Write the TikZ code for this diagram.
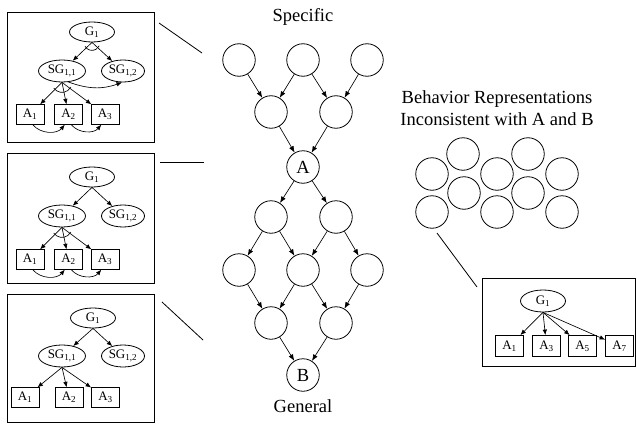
\documentclass[tikz,border=0pt]{standalone}
\usepackage{fontspec}
\setmainfont{Liberation Serif}
\usetikzlibrary{shapes.geometric,arrows.meta}
\begin{document}
\begin{tikzpicture}[x=1pt,y=1pt,
  every node/.style={font=\fontsize{13}{15}\selectfont},
  big/.style={font=\fontsize{18.5}{21.7}\selectfont},
  lat/.style={circle,draw,line width=0.8pt,minimum size=32.5pt,inner sep=0pt,big},
  gl/.style={ellipse,draw,line width=0.8pt,minimum width=45pt,minimum height=20pt,inner sep=0pt},
  sg/.style={gl,minimum width=47pt,minimum height=22pt},
  ab/.style={rectangle,draw,line width=0.8pt,minimum width=28pt,minimum height=19.5pt,inner sep=0pt},
  frame/.style={draw,line width=1pt},
  arr/.style={line width=0.65pt,-{Latex[length=5.5pt,width=4.5pt]}},
  larr/.style={line width=0.65pt,-{Latex[length=6.5pt,width=5pt]}},
  andarc/.style={line width=0.65pt},
  lead/.style={line width=0.8pt},
]
\useasboundingbox (0,0) rectangle (637,-428);

% ---------- Box 1 ----------
\draw[frame] (7,-13) rectangle (154,-142);
\node[gl] (ag) at (92,-32) {G\textsubscript{1}};
\node[sg] (as1) at (62,-71) {SG\textsubscript{1,1}};
\node[sg,minimum width=43pt] (as2) at (123,-71) {SG\textsubscript{1,2}};
\node[ab] (aa1) at (30,-114.5) {A\textsubscript{1}};
\node[ab] (aa2) at (68.5,-114.5) {A\textsubscript{2}};
\node[ab] (aa3) at (105,-114.5) {A\textsubscript{3}};
\draw[arr] (ag.south) -- (as1);
\draw[arr] (ag.south) -- (as2);
\draw[andarc] ([shift={(-150:8)}]ag.south) arc[start angle=-150,end angle=-25,radius=8];
\draw[arr] (as1.south) -- (aa1);
\draw[arr] (as1.south) -- (aa2);
\draw[arr] (as1.south) -- (aa3);
\draw[andarc] ([shift={(-145:10)}]as1.south) arc[start angle=-145,end angle=-28,radius=10];
\draw[arr] (as1.-60) to[out=-20,in=-160] (as2.-95);
\draw[arr] (aa1.-75) to[out=-50,in=-130] (aa2.-110);
\draw[arr] (aa2.-75) to[out=-50,in=-130] (aa3.-110);

% ---------- Box 2 ----------
\draw[frame] (7,-153) rectangle (154,-283);
\node[gl] (bg) at (92,-177) {G\textsubscript{1}};
\node[sg] (bs1) at (62,-216) {SG\textsubscript{1,1}};
\node[sg,minimum width=43pt] (bs2) at (123,-216) {SG\textsubscript{1,2}};
\node[ab] (ba1) at (30,-259.5) {A\textsubscript{1}};
\node[ab] (ba2) at (68.5,-259.5) {A\textsubscript{2}};
\node[ab] (ba3) at (105,-259.5) {A\textsubscript{3}};
\draw[arr] (bg.south) -- (bs1);
\draw[arr] (bg.south) -- (bs2);
\draw[arr] (bs1.south) -- (ba1);
\draw[arr] (bs1.south) -- (ba2);
\draw[arr] (bs1.south) -- (ba3);
\draw[andarc] ([shift={(-145:10)}]bs1.south) arc[start angle=-145,end angle=-28,radius=10];
\draw[arr] (ba1.-75) to[out=-50,in=-130] (ba2.-110);
\draw[arr] (ba2.-75) to[out=-50,in=-130] (ba3.-110);

% ---------- Box 3 ----------
\draw[frame] (7,-294) rectangle (154,-422);
\node[gl] (cg) at (93,-318) {G\textsubscript{1}};
\node[sg] (cs1) at (62,-356) {SG\textsubscript{1,1}};
\node[sg,minimum width=43pt] (cs2) at (123,-356) {SG\textsubscript{1,2}};
\node[ab] (ca1) at (25,-397.5) {A\textsubscript{1}};
\node[ab] (ca2) at (69,-397.5) {A\textsubscript{2}};
\node[ab] (ca3) at (105.5,-397.5) {A\textsubscript{3}};
\draw[arr] (cg.south) -- (cs1);
\draw[arr] (cg.south) -- (cs2);
\draw[arr] (cs1.south) -- (ca1);
\draw[arr] (cs1.south) -- (ca2);
\draw[arr] (cs1.south) -- (ca3);

% ---------- leader lines ----------
\coordinate (l1a) at (159,-23); \coordinate (l1b) at (202,-53);
\coordinate (l2a) at (160,-162); \coordinate (l2b) at (204,-162);
\coordinate (l3a) at (162,-302); \coordinate (l3b) at (203,-340);
\coordinate (l4a) at (437,-233); \coordinate (l4b) at (477,-287);
\draw[lead] (l1a) -- (l1b);
\draw[lead] (l2a) -- (l2b);
\draw[lead] (l3a) -- (l3b);
\draw[lead] (l4a) -- (l4b);

% ---------- lattice ----------
\node[big] (spec) at (303,-17) {Specific};
\node[big] (gen) at (303,-406) {General};
\node[lat] (t1) at (239,-60) {};
\node[lat] (t2) at (303,-60) {};
\node[lat] (t3) at (367,-60) {};
\node[lat] (m1) at (271,-112) {};
\node[lat] (m2) at (336,-112) {};
\node[lat] (A) at (303,-167) {A};
\node[lat] (n1) at (271,-217) {};
\node[lat] (n2) at (336,-217) {};
\node[lat] (o1) at (239,-270) {};
\node[lat] (o2) at (303,-270) {};
\node[lat] (o3) at (367,-270) {};
\node[lat] (p1) at (271,-323) {};
\node[lat] (p2) at (336,-323) {};
\node[lat] (B) at (303,-375) {B};
\foreach \u/\v in {t1/m1,t2/m1,t2/m2,t3/m2,m1/A,m2/A,A/n1,A/n2,n1/o1,n1/o2,n2/o2,n2/o3,o1/p1,o2/p1,o2/p2,o3/p2,p1/B,p2/B}
  \draw[larr] (\u) -- (\v);

% ---------- inconsistent set ----------
\node[big,align=center] (inc) at (497,-108) {Behavior Representations\\Inconsistent with A and B};
\node[lat] (r1) at (463,-154) {};
\node[lat] (r2) at (528,-154) {};
\node[lat] (r3) at (432,-174) {};
\node[lat] (r4) at (497,-174) {};
\node[lat] (r5) at (562,-174) {};
\node[lat] (r6) at (464,-193) {};
\node[lat] (r7) at (528,-193) {};
\node[lat] (r8) at (432,-212) {};
\node[lat] (r9) at (497,-212) {};
\node[lat] (r10) at (562,-212) {};

% ---------- right box ----------
\draw[frame] (482,-278) rectangle (635.5,-366);
\node[gl,minimum height=22pt] (dg) at (543,-301) {G\textsubscript{1}};
\node[ab,minimum height=21pt] (da1) at (509.5,-346) {A\textsubscript{1}};
\node[ab,minimum height=21pt] (da3) at (546.5,-346) {A\textsubscript{3}};
\node[ab,minimum height=21pt] (da5) at (582.5,-346) {A\textsubscript{5}};
\node[ab,minimum height=21pt] (da7) at (619.5,-346) {A\textsubscript{7}};
\draw[arr] (dg.south) -- (da1);
\draw[arr] (dg.south) -- (da3);
\draw[arr] (dg.south) -- (da5);
\draw[arr] (dg.south) -- (da7);
\end{tikzpicture}
\end{document}
